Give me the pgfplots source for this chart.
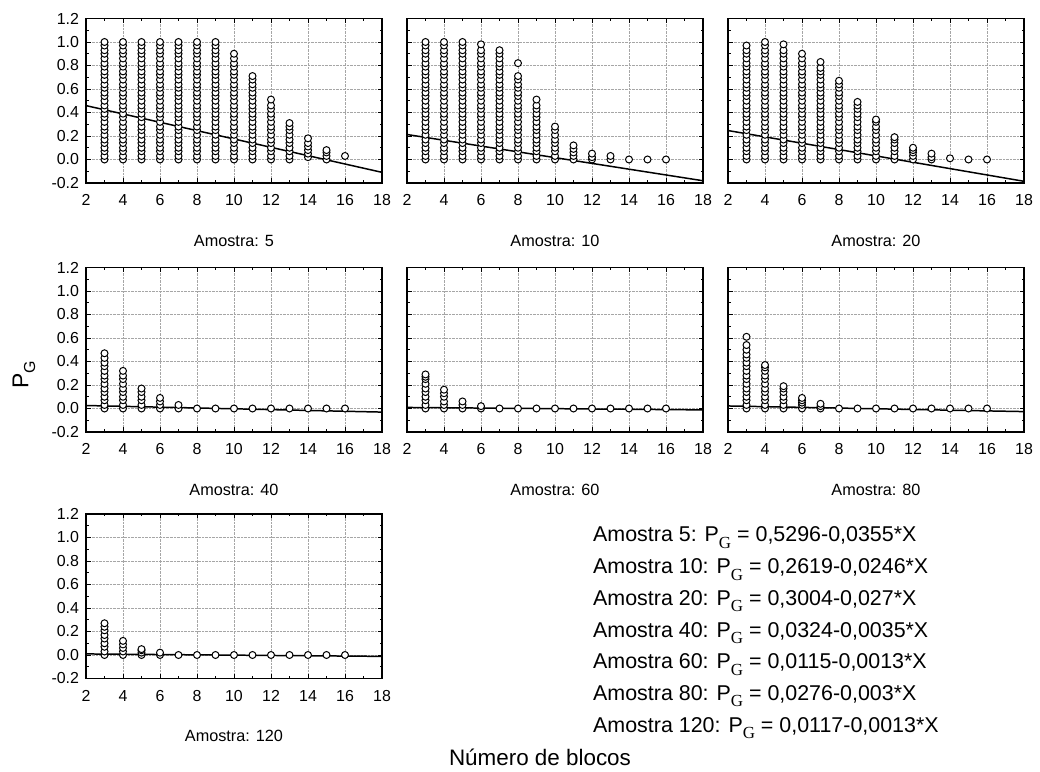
\documentclass[border=0pt]{standalone}
\usepackage{pgfplots}
\pgfplotsset{compat=1.18}
\usepackage{fontspec}
\setmainfont{Liberation Sans}
\newfontfamily\serifG{Liberation Serif}
\pgfplotsset{
 panel/.style={
  scale only axis, width=296bp, height=164.5bp, anchor=south west,
  xmin=2, xmax=18, ymin=-0.2, ymax=1.2,
  xtick={2,4,6,8,10,12,14,16,18}, xticklabels={2,4,6,8,10,12,14,16,18},
  ytick={-0.2,0,0.2,0.4,0.6,0.8,1.0,1.2},
  yticklabels={-0.2,0.0,0.2,0.4,0.6,0.8,1.0,1.2},
  minor x tick num=1, minor y tick num=1,
  tick align=inside, major tick length=4.5bp, minor tick length=2.5bp,
  tick style={black, line width=0.9pt},
  axis line style={line width=1.7pt},
  grid=major, major grid style={densely dotted, black!35, line width=0.6pt},
  tick label style={font=\fontsize{16}{17}\selectfont},
  xticklabel style={anchor=base, yshift=-23bp},
  yticklabel style={xshift=-3.5bp},
  xlabel style={font=\fontsize{16.3}{17}\selectfont, at={(axis description cs:0.5,0)}, anchor=center, yshift=-57.5bp},
 },
 pts/.style={only marks, mark=*, mark size=3.5pt, mark options={fill=white, draw=black, line width=1pt}},
 fitline/.style={black, line width=1.5pt, no marks},
}
\newcommand{\eqline}[2]{Amostra #1: P\raisebox{-6.5pt}{\fontsize{17}{17}\serifG G} = #2}
\begin{document}
\begin{tikzpicture}[x=1bp,y=1bp]
\useasboundingbox (0bp,0bp) rectangle (1040bp,772bp);

% ---------- Amostra 5 ----------
\begin{axis}[panel, at={(86bp,589bp)}, xlabel={Amostra: 5}]
\addplot[pts] coordinates {
(3,0)(3,.03)(3,.07)(3,.1)(3,.14)(3,.17)(3,.21)(3,.25)(3,.28)(3,.32)(3,.36)(3,.39)(3,.43)(3,.46)(3,.5)(3,.54)(3,.57)(3,.61)(3,.64)(3,.68)(3,.72)(3,.75)(3,.79)(3,.82)(3,.86)(3,.9)(3,.93)(3,.97)(3,1)
(4,0)(4,.03)(4,.07)(4,.1)(4,.14)(4,.17)(4,.21)(4,.25)(4,.28)(4,.32)(4,.36)(4,.39)(4,.43)(4,.46)(4,.5)(4,.54)(4,.57)(4,.61)(4,.64)(4,.68)(4,.72)(4,.75)(4,.79)(4,.82)(4,.86)(4,.9)(4,.93)(4,.97)(4,1)
(5,0)(5,.03)(5,.07)(5,.1)(5,.14)(5,.17)(5,.21)(5,.25)(5,.28)(5,.32)(5,.36)(5,.39)(5,.43)(5,.46)(5,.5)(5,.54)(5,.57)(5,.61)(5,.64)(5,.68)(5,.72)(5,.75)(5,.79)(5,.82)(5,.86)(5,.9)(5,.93)(5,.97)(5,1)
(6,0)(6,.03)(6,.07)(6,.1)(6,.14)(6,.17)(6,.21)(6,.25)(6,.28)(6,.32)(6,.36)(6,.39)(6,.43)(6,.46)(6,.5)(6,.54)(6,.57)(6,.61)(6,.64)(6,.68)(6,.72)(6,.75)(6,.79)(6,.82)(6,.86)(6,.9)(6,.93)(6,.97)(6,1)
(7,0)(7,.03)(7,.07)(7,.1)(7,.14)(7,.17)(7,.21)(7,.25)(7,.28)(7,.32)(7,.36)(7,.39)(7,.43)(7,.46)(7,.5)(7,.54)(7,.57)(7,.61)(7,.64)(7,.68)(7,.72)(7,.75)(7,.79)(7,.82)(7,.86)(7,.9)(7,.93)(7,.97)(7,1)
(8,0)(8,.03)(8,.07)(8,.1)(8,.14)(8,.17)(8,.21)(8,.25)(8,.28)(8,.32)(8,.36)(8,.39)(8,.43)(8,.46)(8,.5)(8,.54)(8,.57)(8,.61)(8,.64)(8,.68)(8,.72)(8,.75)(8,.79)(8,.82)(8,.86)(8,.9)(8,.93)(8,.97)(8,1)
(9,0)(9,.03)(9,.07)(9,.1)(9,.14)(9,.17)(9,.21)(9,.25)(9,.28)(9,.32)(9,.36)(9,.39)(9,.43)(9,.46)(9,.5)(9,.54)(9,.57)(9,.61)(9,.64)(9,.68)(9,.72)(9,.75)(9,.79)(9,.82)(9,.86)(9,.9)(9,.93)(9,.97)(9,1)
(10,0)(10,.03)(10,.07)(10,.1)(10,.14)(10,.17)(10,.21)(10,.25)(10,.28)(10,.32)(10,.36)(10,.39)(10,.43)(10,.46)(10,.5)(10,.54)(10,.57)(10,.61)(10,.64)(10,.68)(10,.72)(10,.75)(10,.79)(10,.82)(10,.86)(10,.9)
(11,0)(11,.03)(11,.07)(11,.1)(11,.14)(11,.17)(11,.21)(11,.25)(11,.28)(11,.32)(11,.36)(11,.39)(11,.43)(11,.46)(11,.5)(11,.54)(11,.57)(11,.61)(11,.64)(11,.68)(11,.71)
(12,0)(12,.03)(12,.07)(12,.1)(12,.14)(12,.17)(12,.21)(12,.25)(12,.28)(12,.32)(12,.36)(12,.39)(12,.43)(12,.46)(12,.51)
(13,0)(13,.03)(13,.07)(13,.1)(13,.14)(13,.17)(13,.21)(13,.25)(13,.28)(13,.31)
(14,.02)(14,.05)(14,.08)(14,.11)(14,.14)(14,.18)
(15,0)(15,.03)(15,.06)(15,.08)
(16,.03)
};
\addplot[fitline] coordinates {(2,0.4586)(18,-0.1094)};
\end{axis}

% ---------- Amostra 10 ----------
\begin{axis}[panel, at={(407bp,589bp)}, yticklabels={}, xlabel={Amostra: 10}]
\addplot[pts] coordinates {
(3,0)(3,.03)(3,.07)(3,.1)(3,.14)(3,.17)(3,.21)(3,.25)(3,.28)(3,.32)(3,.36)(3,.39)(3,.43)(3,.46)(3,.5)(3,.54)(3,.57)(3,.61)(3,.64)(3,.68)(3,.72)(3,.75)(3,.79)(3,.82)(3,.86)(3,.9)(3,.93)(3,.97)(3,1)
(4,0)(4,.03)(4,.07)(4,.1)(4,.14)(4,.17)(4,.21)(4,.25)(4,.28)(4,.32)(4,.36)(4,.39)(4,.43)(4,.46)(4,.5)(4,.54)(4,.57)(4,.61)(4,.64)(4,.68)(4,.72)(4,.75)(4,.79)(4,.82)(4,.86)(4,.9)(4,.93)(4,.97)(4,1)
(5,0)(5,.03)(5,.07)(5,.1)(5,.14)(5,.17)(5,.21)(5,.25)(5,.28)(5,.32)(5,.36)(5,.39)(5,.43)(5,.46)(5,.5)(5,.54)(5,.57)(5,.61)(5,.64)(5,.68)(5,.72)(5,.75)(5,.79)(5,.82)(5,.86)(5,.9)(5,.93)(5,.97)(5,1)
(6,0)(6,.03)(6,.07)(6,.1)(6,.14)(6,.17)(6,.21)(6,.25)(6,.28)(6,.32)(6,.36)(6,.39)(6,.43)(6,.46)(6,.5)(6,.54)(6,.57)(6,.61)(6,.64)(6,.68)(6,.72)(6,.75)(6,.79)(6,.82)(6,.86)(6,.9)(6,.93)(6,.98)
(7,0)(7,.03)(7,.07)(7,.1)(7,.14)(7,.17)(7,.21)(7,.25)(7,.28)(7,.32)(7,.36)(7,.39)(7,.43)(7,.46)(7,.5)(7,.54)(7,.57)(7,.61)(7,.64)(7,.68)(7,.72)(7,.75)(7,.79)(7,.82)(7,.86)(7,.9)(7,.93)
(8,0)(8,.03)(8,.07)(8,.1)(8,.14)(8,.17)(8,.21)(8,.25)(8,.28)(8,.32)(8,.36)(8,.39)(8,.43)(8,.46)(8,.5)(8,.54)(8,.57)(8,.61)(8,.64)(8,.68)(8,.71)(8,.82)
(9,0)(9,.03)(9,.07)(9,.1)(9,.14)(9,.17)(9,.21)(9,.25)(9,.28)(9,.32)(9,.36)(9,.39)(9,.43)(9,.46)(9,.51)
(10,0)(10,.03)(10,.07)(10,.1)(10,.14)(10,.17)(10,.21)(10,.25)(10,.28)
(11,0)(11,.03)(11,.06)(11,.09)(11,.12)
(12,0)(12,.02)(12,.05)
(13,0)(13,.03)
(14,0)(15,0)(16,0)
};
\addplot[fitline] coordinates {(2,0.2127)(18,-0.1809)};
\end{axis}

% ---------- Amostra 20 ----------
\begin{axis}[panel, at={(728bp,589bp)}, yticklabels={}, xlabel={Amostra: 20}]
\addplot[pts] coordinates {
(3,0)(3,.03)(3,.07)(3,.1)(3,.14)(3,.17)(3,.21)(3,.25)(3,.28)(3,.32)(3,.36)(3,.39)(3,.43)(3,.46)(3,.5)(3,.54)(3,.57)(3,.61)(3,.64)(3,.68)(3,.72)(3,.75)(3,.79)(3,.82)(3,.86)(3,.9)(3,.93)(3,.97)
(4,0)(4,.03)(4,.07)(4,.1)(4,.14)(4,.17)(4,.21)(4,.25)(4,.28)(4,.32)(4,.36)(4,.39)(4,.43)(4,.46)(4,.5)(4,.54)(4,.57)(4,.61)(4,.64)(4,.68)(4,.72)(4,.75)(4,.79)(4,.82)(4,.86)(4,.9)(4,.93)(4,.97)(4,1)
(5,0)(5,.03)(5,.07)(5,.1)(5,.14)(5,.17)(5,.21)(5,.25)(5,.28)(5,.32)(5,.36)(5,.39)(5,.43)(5,.46)(5,.5)(5,.54)(5,.57)(5,.61)(5,.64)(5,.68)(5,.72)(5,.75)(5,.79)(5,.82)(5,.86)(5,.9)(5,.93)(5,.98)
(6,0)(6,.03)(6,.07)(6,.1)(6,.14)(6,.17)(6,.21)(6,.25)(6,.28)(6,.32)(6,.36)(6,.39)(6,.43)(6,.46)(6,.5)(6,.54)(6,.57)(6,.61)(6,.64)(6,.68)(6,.72)(6,.75)(6,.79)(6,.82)(6,.86)(6,.9)
(7,0)(7,.03)(7,.07)(7,.1)(7,.14)(7,.17)(7,.21)(7,.25)(7,.28)(7,.32)(7,.36)(7,.39)(7,.43)(7,.46)(7,.5)(7,.54)(7,.57)(7,.61)(7,.64)(7,.68)(7,.72)(7,.75)(7,.78)(7,.83)
(8,0)(8,.03)(8,.07)(8,.1)(8,.14)(8,.17)(8,.21)(8,.25)(8,.28)(8,.32)(8,.36)(8,.39)(8,.43)(8,.46)(8,.5)(8,.54)(8,.57)(8,.61)(8,.64)(8,.67)
(9,0)(9,.03)(9,.07)(9,.1)(9,.14)(9,.17)(9,.21)(9,.25)(9,.28)(9,.32)(9,.36)(9,.39)(9,.43)(9,.46)(9,.49)
(10,0)(10,.03)(10,.07)(10,.1)(10,.14)(10,.17)(10,.21)(10,.25)(10,.28)(10,.32)(10,.34)
(11,0)(11,.03)(11,.07)(11,.1)(11,.14)(11,.17)(11,.19)
(12,0)(12,.03)(12,.06)(12,.08)(12,.1)
(13,0)(13,.02)(13,.05)
(14,.01)(15,0)(16,0)
};
\addplot[fitline] coordinates {(2,0.2464)(18,-0.1856)};
\end{axis}

% ---------- Amostra 40 ----------
\begin{axis}[panel, at={(86bp,340bp)}, xlabel={Amostra: 40}]
\addplot[pts] coordinates {
(3,0)(3,.03)(3,.07)(3,.1)(3,.14)(3,.17)(3,.21)(3,.25)(3,.28)(3,.32)(3,.36)(3,.39)(3,.43)(3,.47)
(4,0)(4,.03)(4,.07)(4,.1)(4,.14)(4,.17)(4,.21)(4,.25)(4,.28)(4,.32)
(5,0)(5,.03)(5,.07)(5,.1)(5,.14)(5,.17)
(6,0)(6,.03)(6,.06)(6,.09)
(7,0)(7,.03)
(8,0)(9,0)(10,0)(11,0)(12,0)(13,0)(14,0)(15,0)(16,0)
};
\addplot[fitline] coordinates {(2,0.0254)(18,-0.0306)};
\end{axis}

% ---------- Amostra 60 ----------
\begin{axis}[panel, at={(407bp,340bp)}, yticklabels={}, xlabel={Amostra: 60}]
\addplot[pts] coordinates {
(3,0)(3,.03)(3,.07)(3,.1)(3,.14)(3,.17)(3,.21)(3,.25)(3,.27)(3,.29)
(4,0)(4,.03)(4,.06)(4,.1)(4,.13)(4,.16)
(5,0)(5,.03)(5,.06)
(6,0)(6,.02)
(7,0)(8,0)(9,0)(10,0)(11,0)(12,0)(13,0)(14,0)(15,0)(16,0)
};
\addplot[fitline] coordinates {(2,0.0089)(18,-0.0119)};
\end{axis}

% ---------- Amostra 80 ----------
\begin{axis}[panel, at={(728bp,340bp)}, yticklabels={}, xlabel={Amostra: 80}]
\addplot[pts] coordinates {
(3,0)(3,.03)(3,.07)(3,.1)(3,.14)(3,.17)(3,.21)(3,.25)(3,.28)(3,.32)(3,.36)(3,.39)(3,.43)(3,.46)(3,.5)(3,.54)(3,.61)
(4,0)(4,.03)(4,.07)(4,.1)(4,.14)(4,.17)(4,.21)(4,.25)(4,.28)(4,.32)(4,.35)(4,.37)
(5,0)(5,.03)(5,.07)(5,.1)(5,.14)(5,.17)(5,.19)
(6,0)(6,.03)(6,.05)(6,.07)(6,.09)
(7,0)(7,.02)(7,.04)
(8,0)(9,0)(10,0)(11,0)(12,0)(13,0)(14,0)(15,0)(16,0)
};
\addplot[fitline] coordinates {(2,0.0216)(18,-0.0264)};
\end{axis}

% ---------- Amostra 120 ----------
\begin{axis}[panel, at={(86bp,93.5bp)}, xlabel={Amostra: 120}]
\addplot[pts] coordinates {
(3,0)(3,.03)(3,.07)(3,.1)(3,.14)(3,.17)(3,.21)(3,.24)(3,.27)
(4,0)(4,.03)(4,.06)(4,.09)(4,.12)
(5,0)(5,.02)(5,.04)(5,.05)
(6,0)(6,.02)
(7,0)(8,0)(9,0)(10,0)(11,0)(12,0)(13,0)(14,0)(15,0)(16,0)
};
\addplot[fitline] coordinates {(2,0.0091)(18,-0.0117)};
\end{axis}

% ---------- equations ----------
\begin{scope}[every node/.style={anchor=base west, inner sep=0pt, font=\fontsize{21.5}{22}\selectfont}]
\node at (593bp,230bp) {\eqline{5}{0,5296-0,0355*X}};
\node at (593bp,198.3bp) {\eqline{10}{0,2619-0,0246*X}};
\node at (593bp,166.6bp) {\eqline{20}{0,3004-0,027*X}};
\node at (593bp,134.9bp) {\eqline{40}{0,0324-0,0035*X}};
\node at (593bp,103.2bp) {\eqline{60}{0,0115-0,0013*X}};
\node at (593bp,71.5bp) {\eqline{80}{0,0276-0,003*X}};
\node at (593bp,39.8bp) {\eqline{120}{0,0117-0,0013*X}};
\end{scope}

\node[anchor=base, inner sep=0pt, font=\fontsize{22.5}{23}\selectfont] at (540bp,7bp) {Número de blocos};
\node[rotate=90, inner sep=0pt, font=\fontsize{23}{24}\selectfont] at (24bp,397bp) {P\raisebox{-0.3em}{\fontsize{16}{16}\selectfont G}};
\end{tikzpicture}
\end{document}
